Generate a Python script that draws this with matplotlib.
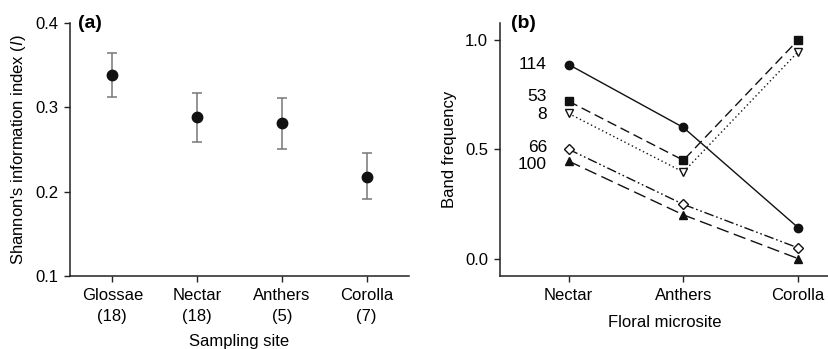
import matplotlib.pyplot as plt

plt.rcParams['font.family'] = ['Liberation Sans', 'DejaVu Sans']
plt.rcParams['font.size'] = 12
plt.rcParams['mathtext.fontset'] = 'custom'
plt.rcParams['mathtext.it'] = 'Liberation Sans:italic'

# panel (a)
sites = ["Glossae\n(18)", "Nectar\n(18)", "Anthers\n(5)", "Corolla\n(7)"]
shannon = [0.338, 0.288, 0.281, 0.218]
err_low = [0.312, 0.259, 0.251, 0.191]
err_high = [0.365, 0.317, 0.311, 0.246]

# panel (b)
microsites = ["Nectar", "Anthers", "Corolla"]
band_names = ["114", "53", "8", "66", "100"]
band_114 = [0.888, 0.60, 0.142]
band_53 = [0.72, 0.45, 1.0]
band_8 = [0.664, 0.396, 0.946]
band_66 = [0.50, 0.248, 0.049]
band_100 = [0.446, 0.20, 0.0]
label_y = [0.887, 0.74, 0.66, 0.51, 0.43]


def style(ax):
    for s in ["top", "right"]:
        ax.spines[s].set_visible(False)
    for s in ["left", "bottom"]:
        ax.spines[s].set_linewidth(1.1)
        ax.spines[s].set_color("#222222")
    ax.tick_params(direction="out", length=4.5, width=1, color="#222222", labelsize=12, pad=4)


fig = plt.figure(figsize=(8.29, 3.49), dpi=100)

ax1 = fig.add_axes([0.0844, 0.209, 0.4090, 0.725])
x = list(range(len(sites)))
yerr = [[s - l for s, l in zip(shannon, err_low)], [h - s for s, h in zip(shannon, err_high)]]
ax1.errorbar(x, shannon, yerr=yerr, fmt="o", color="#111111", ecolor="#777777",
             elinewidth=1.1, capsize=3.5, capthick=1.1, markersize=7.5)
ax1.set_xlim(-0.5, 3.5)
ax1.set_ylim(0.1, 0.4)
ax1.set_yticks([0.1, 0.2, 0.3, 0.4])
ax1.set_xticks(x)
ax1.set_xticklabels(sites, linespacing=1.55)
ax1.set_xlabel("Sampling site", labelpad=7)
ax1.set_ylabel(r"Shannon's information index ($\mathit{I}$)", labelpad=5)
style(ax1)
ax1.text(0.025, 1.0, "(a)", transform=ax1.transAxes, fontsize=14, fontweight="bold",
         va="center", ha="left")

ax2 = fig.add_axes([0.603, 0.209, 0.397, 0.725])
xb = list(range(len(microsites)))
lw = 1.0
ax2.plot(xb, band_114, color="#111111", lw=lw, ls="-", marker="o", ms=6, mfc="#111111")
ax2.plot(xb, band_53, color="#111111", lw=lw, ls=(0, (7, 3.5)), marker="s", ms=6, mfc="#111111")
ax2.plot(xb, band_8, color="#111111", lw=lw, ls=(0, (1, 2)), marker="v", ms=6, mfc="white")
ax2.plot(xb, band_66, color="#111111", lw=lw, ls=(0, (7, 2, 1.2, 2, 1.2, 2)), marker="D", ms=5, mfc="white")
ax2.plot(xb, band_100, color="#111111", lw=lw, ls=(0, (9, 4)), marker="^", ms=6, mfc="#111111")
for name, yy in zip(band_names, label_y):
    ax2.text(-0.19, yy, name, ha="right", va="center", fontsize=12.5)
ax2.set_xlim(-0.6, 2.27)
ax2.set_ylim(-0.08, 1.078)
ax2.set_yticks([0.0, 0.5, 1.0])
ax2.set_yticklabels(["0.0", "0.5", "1.0"])
ax2.set_xticks(xb)
ax2.set_xticklabels(microsites)
ax2.set_xlabel("Floral microsite", labelpad=9)
ax2.set_ylabel("Band frequency", labelpad=6)
style(ax2)
ax2.text(0.035, 1.0, "(b)", transform=ax2.transAxes, fontsize=14, fontweight="bold",
         va="center", ha="left")

fig.savefig("out.png", dpi=100)
